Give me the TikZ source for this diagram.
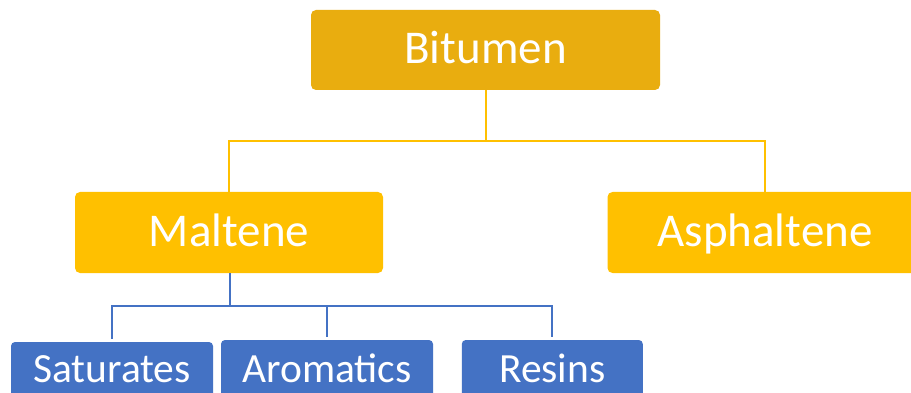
\documentclass[tikz,border=0pt]{standalone}
\usepackage{fontspec}
\setmainfont{Carlito}
\definecolor{gold}{HTML}{E9AD0F}
\definecolor{amber}{HTML}{FFC000}
\definecolor{steel}{HTML}{4472C4}
\tikzset{
  topbox/.style={fill=gold, rounded corners=5pt, inner sep=0pt},
  midbox/.style={fill=amber, rounded corners=5pt, inner sep=0pt},
  lowbox/.style={fill=steel, rounded corners=4pt, inner sep=0pt},
  bigtxt/.style={text=white, anchor=base, inner sep=0pt, font=\fontsize{47}{56}\selectfont},
  smalltxt/.style={text=white, anchor=base, inner sep=0pt, font=\fontsize{41.5}{50}\selectfont},
  yline/.style={draw=amber, line width=2pt},
  bline/.style={draw=steel, line width=2pt, shorten >=2.5pt},
}
\begin{document}
\begin{tikzpicture}[x=1pt, y=-1pt]
\path[use as bounding box, clip] (0,0) rectangle (911,393);
\fill[white] (0,0) rectangle (911,393);
% boxes
\node[topbox, minimum width=349pt, minimum height=80pt] (bit) at (485.5,50) {};
\node[midbox, minimum width=308pt, minimum height=81pt] (mal) at (229,232.5) {};
\node[midbox, minimum width=315pt, minimum height=81pt] (asp) at (765,232.5) {};
\node[lowbox, minimum width=202pt, minimum height=80pt] (sat) at (112,382) {};
\node[lowbox, minimum width=212pt, minimum height=80pt] (aro) at (327,380) {};
\node[lowbox, minimum width=181pt, minimum height=80pt] (res) at (552.3,380) {};
% texts
\node[bigtxt] (bitT) at (485.5,63.3) {Bitumen};
\node[bigtxt] (malT) at (229,246.7) {Maltene};
\node[bigtxt] (aspT) at (765,246.7) {Asphaltene};
\node[smalltxt] (satT) at (112,382) {Saturates};
\node[smalltxt] (aroT) at (327,382) {Aromatics};
\node[smalltxt] (resT) at (552.3,382) {Resins};
% connectors
\coordinate (j1) at (485.5,141);
\coordinate (j2) at (230,306);
\draw[yline] (bit.south) -- (j1) -| (mal.north);
\draw[yline] (j1) -| (asp.north);
\draw[bline, shorten >=0pt] (mal.south -| j2) -- (j2);
\draw[bline] (j2) -| (sat.north);
\draw[bline] (j2) -| (aro.north);
\draw[bline] (j2) -| (res.north);
\end{tikzpicture}
\end{document}
